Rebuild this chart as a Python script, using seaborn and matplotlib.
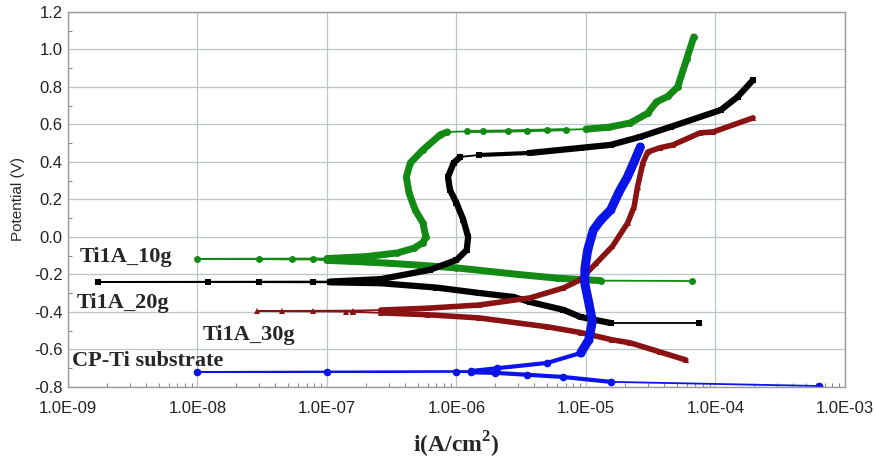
import numpy as np
import pandas as pd
import matplotlib
matplotlib.use("Agg")
import matplotlib.pyplot as plt
import seaborn as sns
from matplotlib.ticker import FuncFormatter, LogLocator, MultipleLocator, NullFormatter

# values, in scan order (cathodic -> Ecorr -> anodic)
# Ti1A_10g
g10_i = [6.6e-5, 1.3e-5, 6e-6, 3e-6, 1e-6, 5e-7, 3e-7, 1.5e-7, 1e-7,
         7.8e-8, 5.4e-8, 3e-8, 1e-8,
         1e-7, 2e-7, 3.5e-7, 4.7e-7, 5.5e-7, 5.8e-7, 5.5e-7, 4.8e-7, 4.3e-7, 4.1e-7,
         4.4e-7, 5.5e-7, 7.5e-7, 8.5e-7, 1.2e-6, 1.6e-6, 2.5e-6, 3.5e-6, 5e-6, 7e-6,
         1e-5, 1.5e-5, 2.2e-5, 3.0e-5, 3.5e-5, 4.3e-5, 5.1e-5, 6e-5, 6.8e-5]
g10_E = [-0.235, -0.233, -0.22, -0.2, -0.165, -0.15, -0.14, -0.13, -0.125,
         -0.12, -0.12, -0.118, -0.117,
         -0.115, -0.105, -0.085, -0.06, -0.03, 0.0, 0.075, 0.144, 0.235, 0.32,
         0.395, 0.464, 0.545, 0.56, 0.563, 0.563, 0.565, 0.567, 0.57, 0.572,
         0.575, 0.585, 0.608, 0.66, 0.72, 0.75, 0.8, 0.95, 1.067]

# Ti1A_20g
g20_i = [7.4e-5, 1.55e-5, 9.1e-6, 6.7e-6, 3.7e-6, 2.75e-6, 1.5e-6, 7e-7, 2.6e-7, 1.05e-7,
         7.8e-8, 3e-8, 1.2e-8, 1.7e-9,
         1.05e-7, 2.6e-7, 6.2e-7, 1.0e-6, 1.2e-6, 1.23e-6, 1.13e-6, 1.0e-6, 8.9e-7,
         8.6e-7, 9.5e-7, 1.07e-6, 1.5e-6, 3.7e-6, 9.1e-6, 1.55e-5, 2.6e-5, 4.5e-5,
         1.1e-4, 1.48e-4, 1.95e-4]
g20_E = [-0.459, -0.459, -0.427, -0.389, -0.347, -0.32, -0.299, -0.27, -0.247, -0.242,
         -0.242, -0.241, -0.24, -0.24,
         -0.238, -0.225, -0.176, -0.123, -0.069, 0.0, 0.091, 0.181, 0.251,
         0.32, 0.395, 0.427, 0.437, 0.448, 0.475, 0.491, 0.533, 0.587,
         0.677, 0.747, 0.837]

# Ti1A_30g
g30_i = [5.9e-5, 3.7e-5, 2.2e-5, 1.6e-5, 9.1e-6, 5.1e-6, 1.5e-6, 6e-7, 2.6e-7, 1.6e-7,
         1.4e-7, 7.8e-8, 4.5e-8, 2.9e-8,
         1.6e-7, 2.6e-7, 6e-7, 1.5e-6, 3.7e-6, 6.7e-6, 9e-6, 1.2e-5, 1.6e-5, 2.1e-5,
         2.35e-5, 2.5e-5, 2.75e-5, 3.0e-5, 3.7e-5, 4.7e-5, 7.6e-5, 9.6e-5, 1.95e-4]
g30_E = [-0.656, -0.613, -0.565, -0.549, -0.51, -0.48, -0.432, -0.415, -0.405, -0.4,
         -0.398, -0.397, -0.396, -0.395,
         -0.393, -0.39, -0.38, -0.363, -0.325, -0.272, -0.229, -0.14, -0.05, 0.075,
         0.16, 0.267, 0.395, 0.453, 0.475, 0.491, 0.555, 0.56, 0.635]

# CP-Ti substrate
cp_i = [6.3e-4, 1.55e-5, 6.7e-6, 3.5e-6, 2e-6, 1.3e-6, 1.0e-6, 1.0e-7, 1.0e-8,
        1.3e-6, 2.07e-6, 5e-6, 9.1e-6, 1.05e-5, 1.12e-5, 1.05e-5, 9.8e-6, 9.8e-6,
        1.03e-5, 1.14e-5, 1.3e-5, 1.55e-5, 1.8e-5, 2.09e-5, 2.35e-5, 2.63e-5]
cp_E = [-0.795, -0.773, -0.747, -0.735, -0.725, -0.722, -0.72, -0.72, -0.72,
        -0.715, -0.7, -0.672, -0.619, -0.55, -0.45, -0.35, -0.25, -0.17,
        -0.07, 0.037, 0.09, 0.144, 0.24, 0.32, 0.4, 0.48]

x_ticks = [1e-9, 1e-8, 1e-7, 1e-6, 1e-5, 1e-4, 1e-3]

# style: colour, marker, marker size, index ranges drawn thicker (dense data) with width
styles = {
    "Ti1A_10g": ("#138a13", "o", 5, [(1, 9, 5.0), (13, 27, 5.0), (27, 33, 2.2), (33, 42, 5.0)]),
    "Ti1A_20g": ("#000000", "s", 4.5, [(1, 10, 4.5), (14, 26, 4.5), (26, 28, 3.0), (27, 35, 4.5)]),
    "Ti1A_30g": ("#8b1212", "^", 4.5, [(0, 9, 4.0), (15, 33, 4.0)]),
    "CP-Ti substrate": ("#0a14e6", "o", 5.5, [(1, 6, 3.0), (9, 13, 3.0), (12, 26, 6.5)]),
}
series = {
    "Ti1A_10g": (g10_i, g10_E),
    "Ti1A_20g": (g20_i, g20_E),
    "Ti1A_30g": (g30_i, g30_E),
    "CP-Ti substrate": (cp_i, cp_E),
}

sns.set_theme(style="white")
plt.rcParams['font.family'] = ['Liberation Sans', 'DejaVu Sans']

fig = plt.figure(figsize=(8.75, 4.59), dpi=100)
ax = fig.add_axes([0.0777, 0.157, 0.888, 0.817])
ax.set_xscale("log")

for name, (xi, ye) in series.items():
    col, mk, ms, dense = styles[name]
    df = pd.DataFrame({"i": xi, "E": ye})
    sns.lineplot(data=df, x="i", y="E", sort=False, estimator=None, ax=ax,
                 color=col, lw=1.3, marker=mk, markersize=ms, markeredgewidth=0)
    for a, b, lw in dense:
        sns.lineplot(data=df.iloc[a:b], x="i", y="E", sort=False, estimator=None, ax=ax,
                     color=col, lw=lw, solid_capstyle="round", solid_joinstyle="round")

ax.set_xlim(1e-9, 1e-3)
ax.set_ylim(-0.8, 1.2)
ax.set_xticks(x_ticks)
ax.xaxis.set_major_formatter(FuncFormatter(lambda v, _: f"{v:.1E}"))
ax.xaxis.set_minor_locator(LogLocator(base=10, subs=np.arange(2, 10)))
ax.xaxis.set_minor_formatter(NullFormatter())
ax.yaxis.set_major_locator(MultipleLocator(0.2))
ax.yaxis.set_minor_locator(MultipleLocator(0.1))
ax.yaxis.set_major_formatter(FuncFormatter(lambda v, _: f"{round(v, 1) + 0:.1f}"))

ax.grid(True, which="major", color="#b9c7cd", lw=0.9)
ax.tick_params(which="major", direction="in", length=0, labelsize=12, colors="#222222")
ax.tick_params(axis="x", which="major", pad=10)
ax.tick_params(axis="y", which="major", pad=4)
ax.tick_params(which="minor", direction="in", length=3, color="#8a8a8a", width=0.8)
ax.tick_params(axis="x", which="minor", bottom=True)
ax.tick_params(axis="y", which="minor", left=True)
for s in ax.spines.values():
    s.set_color("#9a9a9a")
    s.set_linewidth(1.0)

ax.set_xlabel("i(A/cm$^\\mathregular{2}$)", family="Liberation Serif", fontweight="bold",
              fontsize=17, labelpad=10)
ax.set_ylabel("Potential (V)", fontsize=11, labelpad=6)

lab = dict(family="Liberation Serif", fontweight="bold", fontsize=16, va="baseline")
ax.text(1.24e-9, -0.133, "Ti1A_10g", **lab)
ax.text(1.17e-9, -0.379, "Ti1A_20g", **lab)
ax.text(1.1e-8, -0.549, "Ti1A_30g", **lab)
ax.text(1.07e-9, -0.688, "CP-Ti substrate", **lab)

fig.savefig("out.png", dpi=100)
